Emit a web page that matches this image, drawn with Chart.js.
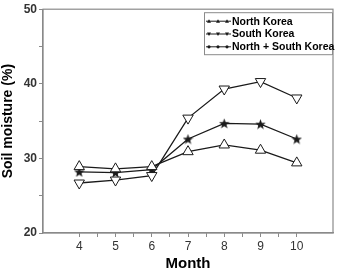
<!DOCTYPE html>
<html lang="en">
<head>
    <meta charset="UTF-8" />
    <title>Soil moisture</title>
    <style>
        html, body { margin: 0; padding: 0; background: #ffffff; }
        #wrap { width: 340px; height: 273px; }
    </style>
</head>
<body>
<div id="wrap"><canvas id="chart"></canvas></div>

<script src="https://cdn.jsdelivr.net/npm/chart.js"></script>
<script>
    // values
    const months = [4, 5, 6, 7, 8, 9, 10];
    const northKorea = [28.9, 28.6, 28.9, 30.9, 31.8, 31.1, 29.4];
    const southKorea = [26.7, 27.1, 27.7, 35.4, 39.3, 40.3, 38.1];
    const bothKoreas = [28.2, 28.1, 28.5, 32.6, 34.7, 34.6, 32.6];
    const seriesNames = ["North Korea", "South Korea", "North + South Korea"];
    const yTicks = [20, 30, 40, 50];

    const ink = "#1a1a1a";
    const axisGray = "#8a8a8a";

    // filled five point star used as marker
    function makeStar(size) {
        const c = document.createElement("canvas");
        c.width = size; c.height = size;
        const g = c.getContext("2d");
        const cx = size / 2, cy = size / 2 + 0.5, R = size / 2, r = R * 0.42;
        g.beginPath();
        for (let i = 0; i < 10; i++) {
            const rad = i % 2 === 0 ? R : r;
            const a = -Math.PI / 2 + i * Math.PI / 5;
            g.lineTo(cx + rad * Math.cos(a), cy + rad * Math.sin(a));
        }
        g.closePath();
        g.fillStyle = ink;
        g.fill();
        return c;
    }
    const starMarker = makeStar(11);

    function toPoints(values) {
        return months.map((m, i) => ({ x: m, y: values[i] }));
    }

    // box around the plot area
    const framePlugin = {
        id: "frame",
        beforeDatasetsDraw(chart) {
            const a = chart.chartArea, ctx = chart.ctx;
            ctx.save();
            ctx.strokeStyle = axisGray;
            ctx.lineWidth = 1.2;
            ctx.strokeRect(a.left, a.top, a.right - a.left, a.bottom - a.top);
            ctx.restore();
        }
    };

    // legend box drawn in the upper right corner
    const legendPlugin = {
        id: "boxLegend",
        afterDatasetsDraw(chart) {
            const a = chart.chartArea, ctx = chart.ctx;
            const w = 129, h = 43;
            const x0 = a.right - w, y0 = a.top + 3;
            ctx.save();
            ctx.fillStyle = "#ffffff";
            ctx.fillRect(x0, y0, w, h);
            ctx.strokeStyle = axisGray;
            ctx.lineWidth = 1;
            ctx.strokeRect(x0 + 0.5, y0 + 0.5, w - 1, h - 1);
            ctx.font = "bold 10.5px Arial, 'Liberation Sans', sans-serif";
            ctx.textBaseline = "middle";
            chart.data.datasets.forEach((ds, i) => {
                const yy = y0 + 9 + i * 12.8;
                ctx.strokeStyle = ink;
                ctx.lineWidth = 1;
                ctx.beginPath();
                ctx.moveTo(x0 + 2, yy);
                ctx.lineTo(x0 + 27, yy);
                ctx.stroke();
                [5, 14, 23].forEach(dx => {
                    const mx = x0 + dx;
                    ctx.fillStyle = ink;
                    ctx.beginPath();
                    if (i === 0) {
                        ctx.moveTo(mx, yy - 2); ctx.lineTo(mx + 2, yy + 1.5); ctx.lineTo(mx - 2, yy + 1.5);
                    } else if (i === 1) {
                        ctx.moveTo(mx, yy + 2); ctx.lineTo(mx + 2, yy - 1.5); ctx.lineTo(mx - 2, yy - 1.5);
                    } else {
                        ctx.arc(mx, yy, 1.6, 0, Math.PI * 2);
                    }
                    ctx.closePath();
                    ctx.fill();
                });
                ctx.fillStyle = "#000000";
                ctx.fillText(ds.label, x0 + 28, yy + 0.5);
            });
            ctx.restore();
        }
    };

    const baseSet = {
        borderColor: ink,
        borderWidth: 1.3,
        pointBorderColor: ink,
        pointBackgroundColor: "#ffffff",
        pointBorderWidth: 1,
        pointRadius: 6,
        tension: 0,
        fill: false
    };

    new Chart(document.getElementById("chart"), {
        type: "line",
        data: {
            datasets: [
                Object.assign({}, baseSet, {
                    label: seriesNames[0],
                    data: toPoints(northKorea),
                    pointStyle: "triangle"
                }),
                Object.assign({}, baseSet, {
                    label: seriesNames[1],
                    data: toPoints(southKorea),
                    pointStyle: "triangle",
                    pointRotation: 180
                }),
                Object.assign({}, baseSet, {
                    label: seriesNames[2],
                    data: toPoints(bothKoreas),
                    pointStyle: starMarker
                })
            ]
        },
        options: {
            responsive: true,
            maintainAspectRatio: false,
            animation: false,
            layout: { padding: { top: 6, right: 3, left: 0, bottom: 0 } },
            plugins: {
                legend: { display: false },
                tooltip: { enabled: false }
            },
            scales: {
                x: {
                    type: "linear",
                    min: 3,
                    max: 11,
                    afterBuildTicks(scale) {
                        const ticks = [];
                        for (let v = months[0]; v <= months[months.length - 1]; v += 0.5) ticks.push({ value: v });
                        scale.ticks = ticks;
                    },
                    afterFit(scale) { scale.height = 40; },
                    ticks: {
                        autoSkip: false,
                        maxRotation: 0,
                        padding: 2,
                        color: "#333333",
                        font: { family: "Arial, 'Liberation Sans', sans-serif", size: 12 },
                        callback: v => (Number.isInteger(v) ? String(v) : "")
                    },
                    grid: {
                        drawOnChartArea: false,
                        tickLength: 4,
                        tickColor: axisGray,
                        color: axisGray
                    },
                    border: { color: axisGray, width: 1.2 },
                    title: {
                        display: true,
                        text: "Month",
                        color: "#000000",
                        padding: { top: 2, bottom: 0 },
                        font: { family: "Arial, 'Liberation Sans', sans-serif", size: 15, weight: "bold" }
                    }
                },
                y: {
                    min: yTicks[0],
                    max: yTicks[yTicks.length - 1],
                    afterFit(scale) { scale.width = 43; },
                    ticks: {
                        stepSize: 5,
                        padding: 2,
                        color: "#333333",
                        font: { family: "Arial, 'Liberation Sans', sans-serif", size: 12, weight: "bold" },
                        callback: v => (yTicks.includes(v) ? String(v) : "")
                    },
                    grid: {
                        drawOnChartArea: false,
                        tickLength: 4,
                        tickColor: axisGray,
                        color: axisGray
                    },
                    border: { color: axisGray, width: 1.2 },
                    title: {
                        display: true,
                        text: "Soil moisture (%)",
                        color: "#000000",
                        padding: { top: 0, bottom: 4 },
                        font: { family: "Arial, 'Liberation Sans', sans-serif", size: 14, weight: "bold" }
                    }
                }
            }
        },
        plugins: [framePlugin, legendPlugin]
    });
</script>
</body>
</html>
